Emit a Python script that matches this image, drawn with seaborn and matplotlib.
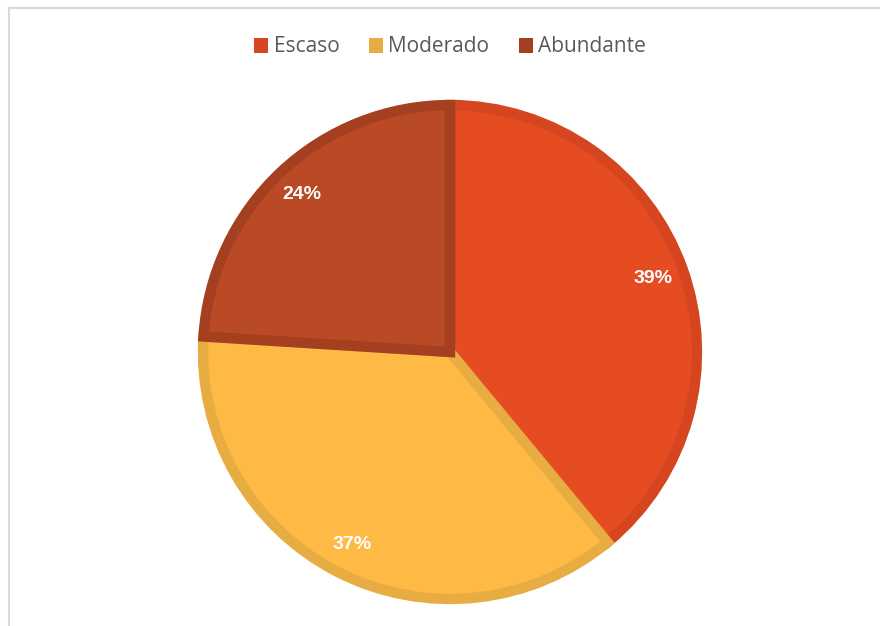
import matplotlib
matplotlib.use("Agg")
import matplotlib.pyplot as plt
import seaborn as sns
from matplotlib.patches import Patch, Rectangle

sns.set_theme(style="white")
plt.rcParams['font.family'] = ['Open Sans', 'DejaVu Sans']

categories = ["Escaso", "Moderado", "Abundante"]
values = [39, 37, 24]
fill_colors = ["#E64C22", "#FFB945", "#B94A25"]
edge_colors = ["#D5451F", "#E8AD42", "#A43F20"]

fig = plt.figure(figsize=(8.8, 6.26), dpi=100)
W, H = 880, 626
cx, cy, R = 450, 352, 252
half = 262
ax = fig.add_axes([(cx - half) / W, (H - cy - half) / H, 2 * half / W, 2 * half / H])

wedges, texts, autotexts = ax.pie(
    values, colors=fill_colors, startangle=90, counterclock=False,
    radius=0.98, autopct="%1.0f%%", pctdistance=0.875,
    wedgeprops=dict(linewidth=7.5, joinstyle="miter"),
    textprops=dict(color="white", fontsize=14, fontweight="bold",
                   family=["Liberation Sans", "DejaVu Sans"]),
    frame=False)
for w, ec in zip(wedges, edge_colors):
    w.set_edgecolor(ec)
ax.set_xlim(-half / R, half / R)
ax.set_ylim(-half / R, half / R)
ax.set_aspect("equal")
ax.axis("off")

handles = [Patch(facecolor=c, edgecolor="none") for c in edge_colors]
fig.legend(handles, categories, loc="center", bbox_to_anchor=(cx / W, 1 - 47 / H),
           ncol=3, frameon=False, fontsize=15, handlelength=0.7, handleheight=0.7,
           handletextpad=0.25, columnspacing=1.4, labelcolor="#595959")

fig.patches.append(Rectangle((9 / W, -0.1), 1.2, 1 - 8 / H + 0.1, transform=fig.transFigure,
                             fill=False, edgecolor="#D9D9D9", linewidth=1.5))

fig.savefig("out.png", dpi=100)
